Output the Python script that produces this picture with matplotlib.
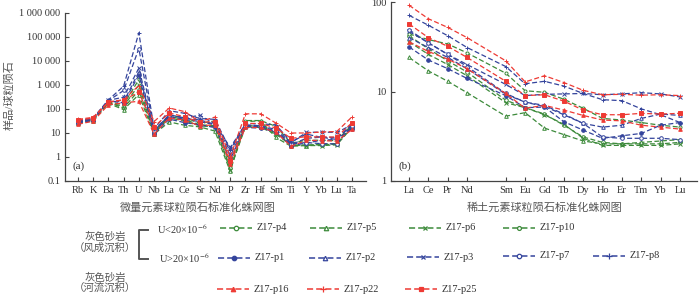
import matplotlib
matplotlib.use("Agg")
import matplotlib.pyplot as plt
from matplotlib.lines import Line2D
import numpy as np

plt.rcParams['font.family'] = ['Liberation Serif', 'Noto Sans CJK SC']
plt.rcParams['mathtext.fontset'] = 'stix'

# ---------------- data ----------------
trace_elems = ["Rb", "K", "Ba", "Th", "U", "Nb", "La", "Ce", "Sr", "Nd", "P",
               "Zr", "Hf", "Sm", "Ti", "Y", "Yb", "Lu", "Ta"]
ree_elems = ["La", "Ce", "Pr", "Nd", "Sm", "Eu", "Gd", "Tb", "Dy", "Ho",
             "Er", "Tm", "Yb", "Lu"]
ree_pos = [0, 1, 2, 3, 5, 6, 7, 8, 9, 10, 11, 12, 13, 14]   # Pm gap

left_yticks = [0.1, 1, 10, 100, 1000, 10000, 100000, 1000000]
left_ylabels = ["0.1", "1", "10", "100", "1 000", "10 000", "100 000", "1 000 000"]
right_yticks = [1, 10, 100]
right_ylabels = ["1", "10", "100"]

names = ["Z17-p4", "Z17-p5", "Z17-p6", "Z17-p10",
         "Z17-p1", "Z17-p2", "Z17-p3", "Z17-p7", "Z17-p8",
         "Z17-p16", "Z17-p22", "Z17-p25"]

# trace elements (Rb ... Ta), chondrite normalised
trace_p4  = [28, 36, 190, 110, 600, 10, 50, 36, 22, 20, 0.35, 20, 20, 10, 3.0, 3.2, 3.2, 3.4, 18]
trace_p5  = [25, 33, 170, 95, 400, 9, 29, 21, 18, 12, 0.25, 30, 32, 6.5, 2.8, 3.0, 3.4, 3.6, 20]
trace_p6  = [27, 35, 180, 130, 1000, 9.5, 43, 31, 20, 18, 0.30, 18, 17, 9, 3.2, 3.0, 3.0, 3.2, 17]
trace_p10 = [30, 38, 200, 150, 1700, 12, 53, 45, 25, 32, 0.5, 33, 33, 19, 3.8, 5, 5, 4.8, 22]
trace_p1  = [26, 34, 220, 180, 2600, 9, 38, 27, 22, 17, 0.8, 17, 16, 11, 3.0, 3.8, 5.0, 5.4, 15]
trace_p2  = [29, 37, 210, 200, 3500, 11, 48, 37, 30, 22, 1.2, 19, 18, 11, 3.3, 6, 6.7, 6.5, 19]
trace_p3  = [31, 40, 230, 310, 5000, 13, 56, 42, 55, 24, 2.5, 22, 20, 14, 4.0, 10.5, 11, 10.5, 22]
trace_p7  = [30, 39, 220, 590, 33000, 12, 58, 42, 35, 23, 1.8, 20, 19, 12, 3.5, 4, 3.6, 3.5, 20]
trace_p8  = [32, 42, 240, 890, 150000, 15, 85, 66, 40, 37, 2.0, 25, 24, 22, 4.2, 9, 6.6, 5.4, 25]
trace_p16 = [23, 31, 150, 180, 210, 9, 43, 34, 20, 22, 0.5, 17, 17, 11, 2.8, 5, 4.8, 4.6, 14]
trace_p22 = [37, 45, 200, 240, 950, 30, 110, 78, 30, 46, 1.0, 63, 63, 26, 10, 10, 11, 11.5, 47]
trace_p25 = [34, 42, 190, 240, 500, 18, 68, 48, 28, 30, 0.7, 25, 25, 16, 6, 7, 6.8, 6.8, 27]

# REE (La ... Lu), chondrite normalised
ree_p4  = [42, 30, 22, 16.5, 8, 6.6, 5.6, 4.2, 3.1, 2.7, 2.6, 2.6, 2.6, 2.7]
ree_p5  = [24, 17, 13, 9.7, 5.3, 5.8, 3.9, 3.3, 2.8, 2.6, 2.6, 2.7, 2.8, 2.9]
ree_p6  = [36, 26, 20, 15, 7.5, 6.6, 5.5, 4.3, 3.0, 2.5, 2.5, 2.5, 2.5, 2.6]
ree_p10 = [44, 38, 34, 27, 16, 10.2, 9.8, 8.2, 6.5, 5.0, 4.8, 4.5, 4.2, 4.0]
ree_p1  = [31.5, 22.5, 18, 14, 9.0, 6.6, 6.7, 4.6, 3.7, 3.0, 3.2, 3.4, 4.2, 4.5]
ree_p2  = [40, 31, 24, 18, 9.3, 7.6, 7.0, 5.6, 4.4, 4.0, 4.2, 5.0, 5.6, 5.4]
ree_p3  = [47, 35, 26, 20, 12, 9.0, 9.3, 9.4, 9.5, 9.2, 9.4, 9.7, 9.4, 8.7]
ree_p7  = [49, 35, 26, 19, 9.5, 7.6, 6.8, 5.5, 4.4, 3.1, 3.0, 3.0, 3.0, 2.9]
ree_p8  = [71, 55, 42, 31, 19, 12.2, 13, 11.5, 9.5, 8.1, 7.9, 6.4, 5.5, 4.5]
ree_p16 = [36, 28, 23, 18, 9.5, 6.5, 7.0, 6.2, 5.4, 4.8, 4.7, 4.2, 4.0, 3.8]
ree_p22 = [92, 65, 52, 40, 22, 12.8, 15, 12.6, 10.3, 9.2, 9.3, 9.1, 9.2, 9.0]
ree_p25 = [57, 40, 32, 24, 13, 9.0, 9.2, 7.8, 6.2, 5.5, 5.5, 5.7, 5.6, 5.7]

trace_data = [trace_p4, trace_p5, trace_p6, trace_p10, trace_p1, trace_p2, trace_p3,
              trace_p7, trace_p8, trace_p16, trace_p22, trace_p25]
ree_data = [ree_p4, ree_p5, ree_p6, ree_p10, ree_p1, ree_p2, ree_p3,
            ree_p7, ree_p8, ree_p16, ree_p22, ree_p25]

# ---------------- styles ----------------
GREEN = "#3c8a3a"
BLUE = "#34449c"
RED = "#ee3a34"
styles = [
    dict(color=GREEN, marker='o', mfc='white', ms=2.6),
    dict(color=GREEN, marker='^', mfc='white', ms=2.6),
    dict(color=GREEN, marker='x', mfc=GREEN, ms=2.6),
    dict(color=GREEN, marker='o', mfc='white', ms=2.2),
    dict(color=BLUE, marker='o', mfc=BLUE, ms=2.6),
    dict(color=BLUE, marker='^', mfc='white', ms=2.6),
    dict(color=BLUE, marker='x', mfc=BLUE, ms=2.6),
    dict(color=BLUE, marker='o', mfc='white', ms=2.6),
    dict(color=BLUE, marker='+', mfc=BLUE, ms=3.2),
    dict(color=RED, marker='^', mfc=RED, ms=2.6),
    dict(color=RED, marker='+', mfc=RED, ms=3.2),
    dict(color=RED, marker='s', mfc=RED, ms=2.3),
]
dashes = (4, 2)
LW = 0.9
TXT = "#333333"

W, H = 700, 294
fig = plt.figure(figsize=(7.0, 2.94), dpi=100)

def fx(px):
    return px / W

def fy(py):
    return 1 - py / H

axL = fig.add_axes([fx(65), fy(181), fx(366 - 65), (181 - 13) / H])
axR = fig.add_axes([fx(391), fy(181), fx(697 - 391), (181 - 2) / H])

xL = np.arange(len(trace_elems))
for vals, st in zip(trace_data, styles):
    axL.plot(xL, vals, linestyle='--', dashes=dashes, lw=LW, color=st['color'],
             marker=st['marker'], mfc=st['mfc'], mec=st['color'], ms=st['ms'], mew=0.7)
for vals, st in zip(ree_data, styles):
    axR.plot(ree_pos, vals, linestyle='--', dashes=dashes, lw=LW, color=st['color'],
             marker=st['marker'], mfc=st['mfc'], mec=st['color'], ms=st['ms'], mew=0.7)

for ax in (axL, axR):
    ax.set_yscale('log')
    for s in ('top', 'right'):
        ax.spines[s].set_visible(False)
    for s in ('left', 'bottom'):
        ax.spines[s].set_color('#444444')
        ax.spines[s].set_linewidth(0.9)
    ax.tick_params(axis='both', which='both', direction='in', length=3,
                   width=0.8, colors='#444444', labelcolor=TXT, labelsize=7.5)
    ax.tick_params(axis='y', which='minor', length=0)
    ax.set_facecolor('none')

axL.set_ylim(0.1, 1e6)
axL.set_xlim(-0.85, 18.92)
axL.set_xticks(xL)
axL.set_xticklabels(trace_elems)
axL.set_yticks(left_yticks)
axL.set_yticklabels(left_ylabels)
axL.yaxis.set_minor_locator(matplotlib.ticker.NullLocator())

axR.set_ylim(1, 100)
axR.set_xlim(-0.93, 14.88)
axR.set_xticks(ree_pos)
axR.set_xticklabels(ree_elems)
axR.set_yticks(right_yticks)
axR.set_yticklabels(right_ylabels)
axR.yaxis.set_minor_locator(matplotlib.ticker.NullLocator())

for ax in (axL, axR):
    for lab in ax.get_xticklabels() + ax.get_yticklabels():
        lab.set_fontsize(7.5)

axL.text(0.025, 0.07, "(a)", transform=axL.transAxes, fontsize=8, color=TXT)
axR.text(0.025, 0.07, "(b)", transform=axR.transAxes, fontsize=8, color=TXT)

fig.text(fx(10), fy(95), "样品/球粒陨石", rotation=90, ha='center', va='center',
         fontsize=8, color='#555555')

fig.text(fx(198), fy(208), "微量元素球粒陨石标准化蛛网图", ha='center', va='center',
         fontsize=8, color='#555555')
fig.text(fx(545), fy(208), "稀土元素球粒陨石标准化蛛网图", ha='center', va='center',
         fontsize=8, color='#555555')

fig.text(fx(105), fy(237), "灰色砂岩", ha='center', va='center', fontsize=7.5, color='#555555')
fig.text(fx(105), fy(247.5), "（风成沉积）", ha='center', va='center', fontsize=7.5, color='#555555')
fig.text(fx(105), fy(278), "灰色砂岩", ha='center', va='center', fontsize=7.5, color='#555555')
fig.text(fx(105), fy(288), "（河流沉积）", ha='center', va='center', fontsize=7.5, color='#555555')

fig.add_artist(Line2D([fx(148), fx(138.5), fx(138.5), fx(148)],
                      [fy(229.5), fy(229.5), fy(259), fy(259)],
                      color='#555555', lw=1.4, transform=fig.transFigure))
fig.text(fx(157), fy(229), r"U<20×10$^{-6}$", ha='left', va='center', fontsize=7.5, color=TXT)
fig.text(fx(159), fy(258), r"U>20×10$^{-6}$", ha='left', va='center', fontsize=7.5, color=TXT)

leg_pos = [(220, 228), (310, 228), (409, 228), (503, 228),
           (218, 258), (309, 258), (407, 257), (503, 256), (593, 256),
           (217, 289), (307, 289), (405, 289)]
for (x0, y0), st, nm in zip(leg_pos, styles, names):
    fig.add_artist(Line2D([fx(x0), fx(x0 + 16), fx(x0 + 32)], [fy(y0)] * 3,
                          transform=fig.transFigure, linestyle='--', dashes=(4, 2),
                          lw=1.1, color=st['color'], marker=st['marker'],
                          mfc=st['mfc'], mec=st['color'], ms=st['ms'] + 0.6,
                          mew=0.9, markevery=[1]))
    fig.text(fx(x0 + 37), fy(y0), nm, ha='left', va='center', fontsize=7.5, color=TXT)

fig.savefig("out.png", dpi=100)
